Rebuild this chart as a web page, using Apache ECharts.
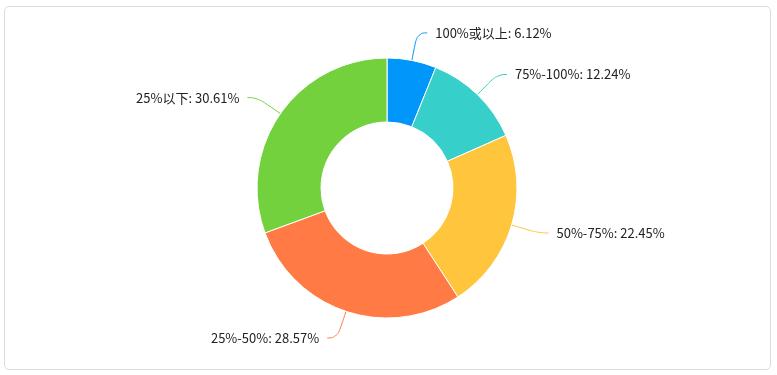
<!DOCTYPE html>
<html><head><meta charset="utf-8">
<script src="https://cdn.jsdelivr.net/npm/echarts@6/dist/echarts.min.js"></script>
<style>
html,body{margin:0;padding:0;background:#fff;}
#box{position:absolute;left:4px;top:6px;width:765px;height:362px;border:1px solid #dcdcdc;border-radius:5px;}
#chart{position:absolute;left:0;top:0;width:777px;height:375px;}
</style></head>
<body>
<div id="box"></div>
<div id="chart"></div>
<script>
const categories = ['100%或以上', '75%-100%', '50%-75%', '25%-50%', '25%以下'];
const values = [3, 6, 11, 14, 15];
const colors = ['#0096FA', '#36CFC9', '#FFC53D', '#FF7A45', '#73D13D'];
const total = values.reduce((a, b) => a + b, 0);

const chart = echarts.init(document.getElementById('chart'));
chart.setOption({
  animation: false,
  color: colors,
  series: [{
    type: 'pie',
    center: [387, 188],
    radius: [66, 130],
    startAngle: 90,
    itemStyle: { borderColor: '#fff', borderWidth: 1 },
    label: {
      formatter: p => p.name + ': ' + (p.value / total * 100).toFixed(2) + '%',
      color: '#222',
      fontSize: 13,
      distanceToLabelLine: 8,
      fontFamily: '"Noto Sans CJK SC", "DejaVu Sans", sans-serif'
    },
    labelLine: { smooth: 0.5, length: 28, length2: 10 },
    data: categories.map((c, i) => ({ name: c, value: values[i] }))
  }]
});
</script>
</body></html>
